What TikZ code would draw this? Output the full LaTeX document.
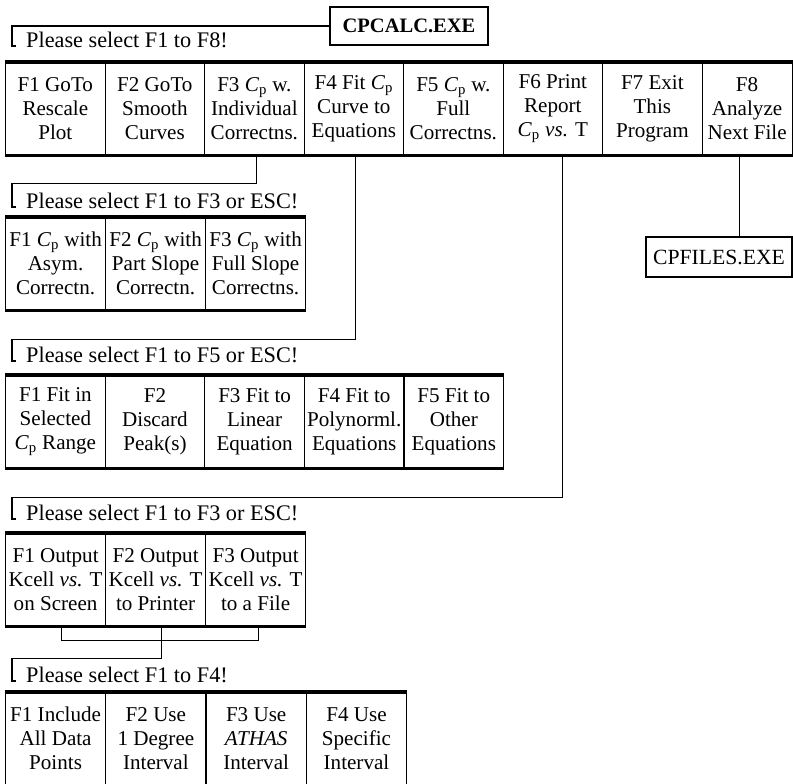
\documentclass[tikz,border=0pt]{standalone}
\usepackage{fontspec}
\setmainfont{Liberation Serif}
\usetikzlibrary{calc}

\newcommand{\Cp}{\textit{C}\textsubscript{p}}

\tikzset{
  cell/.style={draw, line width=1pt, anchor=north west, align=center,
    inner sep=0pt, minimum height=2.76cm, font=\fontsize{18}{20.5}\selectfont},
  head/.style={anchor=base west, inner sep=0pt, font=\fontsize{19}{22}\selectfont},
  exe/.style={draw, line width=1pt, inner sep=0pt},
  band/.style={line width=2.6pt},
  wire/.style={line width=0.9pt},
}

\begin{document}
\begin{tikzpicture}[x=0.03cm,y=-0.03cm]
            \useasboundingbox (0,0) rectangle (793,783);

            % Programs
            \node[exe, minimum width=4.74cm, minimum height=1.14cm,
                  font=\fontsize{17.5}{20}\selectfont\bfseries] (cpcalc) at (409,26) {CPCALC.EXE};
            \node[exe, minimum width=4.38cm, minimum height=1.2cm,
                  font=\fontsize{18.5}{21}\selectfont] (cpfiles) at (719,257) {CPFILES.EXE};

            % Main menu
            \node[head] (h0) at (26,47) {Please select F1 to F8!};
            \coordinate (k0) at (12,46);
            \draw[wire] (cpcalc.west) -| (k0) -- ++(4,0);
            \foreach \k/\w/\txt in {1/2.985/{F1 GoTo\\Rescale\\Plot},
                                   2/2.985/{F2 GoTo\\Smooth\\Curves},
                                   3/2.985/{F3 \Cp{} w.\\Individual\\Correctns.},
                                   4/2.985/{F4 Fit \Cp\\Curve to\\Equations},
                                   5/2.985/{F5 \Cp{} w.\\Full\\Correctns.},
                                   6/2.985/{F6 Print\\Report\\\Cp{} \textit{vs.} T},
                                   7/2.985/{F7 Exit\\This\\Program},
                                   8/2.7/{F8\\Analyze\\Next File}}
                \node[cell, minimum width=\w cm] (m\k) at ({5+99.5*(\k-1)},62) {\txt};
            \draw[band] (m1.north west) -- (m8.north east);
            \draw[band] (m1.south west) -- (m8.south east);

            % F8 -> next file
            \coordinate (f8) at ($(m8.south)+(-8,0)$);
            \draw[wire] (f8) -- (f8 |- cpfiles.north);

            % F3 submenu
            \node[head] (h1) at (26,208) {Please select F1 to F3 or ESC!};
            \coordinate (k1) at (12,207);
            \draw[wire] ($(m3.south)+(2,0)$) -- ++(0,28) -| (k1) -- ++(4,0);
            \foreach \k/\txt in {1/{F1 \Cp{} with\\Asym.\\Correctn.},
                                 2/{F2 \Cp{} with\\Part Slope\\Correctn.},
                                 3/{F3 \Cp{} with\\Full Slope\\Correctns.}}
                \node[cell, minimum width=3cm] (corr\k) at ({5+100*(\k-1)},217) {\txt};
            \draw[band] (corr1.north west) -- (corr3.north east);
            \draw[band] (corr1.south west) -- (corr3.south east);

            % F4 submenu
            \node[head] (h2) at (26,362) {Please select F1 to F5 or ESC!};
            \coordinate (k2) at (12,361);
            \draw[wire] ($(m4.south)+(2,0)$) -- ++(0,184) -| (k2) -- ++(4,0);
            \foreach \k/\txt in {1/{F1 Fit in\\Selected\\\Cp{} Range},
                                 2/{F2\\Discard\\Peak(s)},
                                 3/{F3 Fit to\\Linear\\Equation},
                                 4/{F4 Fit to\\Polynorml.\\Equations},
                                 5/{F5 Fit to\\Other\\Equations}}
                \node[cell, minimum width=2.988cm] (fit\k) at ({5+99.6*(\k-1)},375) {\txt};
            \draw[band] (fit1.north west) -- (fit5.north east);
            \draw[band] (fit1.south west) -- (fit5.south east);

            % F6 submenu
            \node[head] (h3) at (26,520) {Please select F1 to F3 or ESC!};
            \coordinate (k3) at (12,519);
            \draw[wire] ($(m6.south)+(10,0)$) -- ++(0,342) -| (k3) -- ++(4,0);
            \foreach \k/\txt in {1/{F1 Output\\Kcell \textit{vs.} T\\on Screen},
                                 2/{F2 Output\\Kcell \textit{vs.} T\\to Printer},
                                 3/{F3 Output\\Kcell \textit{vs.} T\\to a File}}
                \node[cell, minimum width=3cm] (outp\k) at ({5+100*(\k-1)},533) {\txt};
            \draw[band] (outp1.north west) -- (outp3.north east);
            \draw[band] (outp1.south west) -- (outp3.south east);

            % Interval submenu
            \node[head] (h4) at (26,682) {Please select F1 to F4!};
            \coordinate (k4) at (12,681);
            \draw[wire] ($(outp1.south)+(6,0)$) -- ++(0,14) -| ($(outp3.south)+(3,0)$);
            \draw[wire] ($(outp2.south)+(6,0)$) -- ++(0,32) -| (k4) -- ++(4,0);
            \foreach \k/\txt in {1/{F1 Include\\All Data\\Points},
                                 2/{F2 Use\\1 Degree\\Interval},
                                 3/{F3 Use\\\textit{ATHAS}\\Interval},
                                 4/{F4 Use\\Specific\\Interval}}
                \node[cell, minimum width=3cm] (intv\k) at ({5+100.3*(\k-1)},692) {\txt};
            \draw[band] (intv1.north west) -- (intv4.north east);
            \draw[band] (intv1.south west) -- (intv4.south east);
        \end{tikzpicture}
\end{document}
